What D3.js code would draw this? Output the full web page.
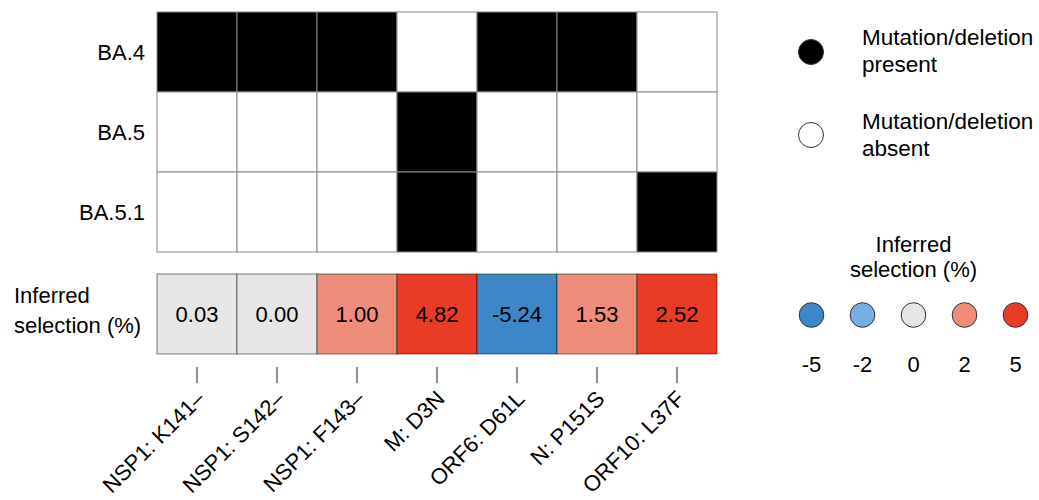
<!DOCTYPE html>
<html>
<head>
<meta charset="utf-8">
<script src="https://cdn.jsdelivr.net/npm/d3@7"></script>
<style>
  body { margin: 0; background: #fff; }
  svg { display: block; font-family: "Liberation Sans", Arial, Helvetica, sans-serif; }
</style>
</head>
<body>
<svg id="chart" width="1039" height="500"></svg>
<script>
// Mutations (columns) and lineages (rows)
const mutations = ["NSP1: K141\u2013", "NSP1: S142\u2013", "NSP1: F143\u2013", "M: D3N", "ORF6: D61L", "N: P151S", "ORF10: L37F"];
const lineages = ["BA.4", "BA.5", "BA.5.1"];

// Presence (1) / absence (0) of each mutation per lineage
const presentBA4  = [1, 1, 1, 0, 1, 1, 0];
const presentBA5  = [0, 0, 0, 1, 0, 0, 0];
const presentBA51 = [0, 0, 0, 1, 0, 0, 1];

// Inferred selection coefficient (%) per mutation
const selection = [0.03, 0.00, 1.00, 4.82, -5.24, 1.53, 2.52];

// Colour legend entries
const legendValues = [-5, -2, 0, 2, 5];
const legendColors = ["#3c87c8", "#74b0e4", "#e6e6e6", "#ef8c7a", "#e83c24"];

const presence = [presentBA4, presentBA5, presentBA51];

const svg = d3.select("#chart");
const fontSize = 22;
const tickFontSize = 22;

const x = d3.scaleBand().domain(mutations).range([157, 717]).padding(0);
const y = d3.scaleBand().domain(lineages).range([12, 252]).padding(0);
const selTop = 274, selH = 80;

// Discrete colour bins for the selection row
const colour = d3.scaleThreshold()
  .domain([-2, -0.5, 0.5, 2])
  .range(legendColors);

// Presence / absence grid
const cells = [];
lineages.forEach((lin, i) => {
  mutations.forEach((m, j) => cells.push({ lin, m, v: presence[i][j] }));
});

svg.append("g").selectAll("rect")
  .data(cells)
  .join("rect")
  .attr("x", d => x(d.m))
  .attr("y", d => y(d.lin))
  .attr("width", x.bandwidth())
  .attr("height", y.bandwidth())
  .attr("fill", d => d.v ? "#000" : "#fff")
  .attr("stroke", "#8a8a8a")
  .attr("stroke-width", 1);

// Row labels
svg.append("g").selectAll("text")
  .data(lineages)
  .join("text")
  .attr("x", 145)
  .attr("y", d => y(d) + y.bandwidth() / 2)
  .attr("dy", "0.35em")
  .attr("text-anchor", "end")
  .attr("font-size", fontSize)
  .attr("fill", "#000")
  .text(d => d);

// Selection row
const selG = svg.append("g");
selG.selectAll("rect")
  .data(selection)
  .join("rect")
  .attr("x", (d, i) => x(mutations[i]))
  .attr("y", selTop)
  .attr("width", x.bandwidth())
  .attr("height", selH)
  .attr("fill", d => colour(d))
  .attr("stroke", "rgba(0,0,0,0.5)")
  .attr("stroke-width", 1);

selG.selectAll("text")
  .data(selection)
  .join("text")
  .attr("x", (d, i) => x(mutations[i]) + x.bandwidth() / 2)
  .attr("y", selTop + selH / 2)
  .attr("dy", "0.35em")
  .attr("text-anchor", "middle")
  .attr("font-size", fontSize)
  .attr("fill", "#000")
  .text(d => d.toFixed(2));

// Selection row label
const selLabel = svg.append("text")
  .attr("font-size", fontSize)
  .attr("fill", "#000");
selLabel.append("tspan").attr("x", 14).attr("y", 303).text("Inferred");
selLabel.append("tspan").attr("x", 14).attr("y", 333).text("selection (%)");

// Bottom axis: ticks with rotated labels
const axis = svg.append("g")
  .attr("transform", "translate(0,367)")
  .call(d3.axisBottom(x).tickSize(16).tickFormat(""));
axis.select(".domain").remove();
axis.selectAll(".tick line").attr("stroke", "#222");

svg.append("g").selectAll("text")
  .data(mutations)
  .join("text")
  .attr("transform", d => `translate(${x(d) + x.bandwidth() / 2 + 9},400) rotate(-45)`)
  .attr("text-anchor", "end")
  .attr("font-size", tickFontSize)
  .attr("fill", "#000")
  .text(d => d);

// Presence legend
const presLegend = [
  { fill: "#000", cy: 52, lines: ["Mutation/deletion", "present"], base: 45 },
  { fill: "#fff", cy: 135, lines: ["Mutation/deletion", "absent"], base: 129 }
];
presLegend.forEach(e => {
  svg.append("circle")
    .attr("cx", 811).attr("cy", e.cy).attr("r", 12.5)
    .attr("fill", e.fill).attr("stroke", "#333").attr("stroke-width", 1);
  const t = svg.append("text").attr("font-size", fontSize + 0.5).attr("fill", "#000");
  e.lines.forEach((l, k) => {
    t.append("tspan").attr("x", 862).attr("y", e.base + k * 27).text(l);
  });
});

// Selection colour legend
const lx = d3.scalePoint().domain(legendValues).range([811.5, 1015.5]);
const legTitle = svg.append("text")
  .attr("text-anchor", "middle")
  .attr("font-size", fontSize)
  .attr("fill", "#000");
legTitle.append("tspan").attr("x", lx(0)).attr("y", 252).text("Inferred");
legTitle.append("tspan").attr("x", lx(0)).attr("y", 277).text("selection (%)");

svg.append("g").selectAll("circle")
  .data(legendValues)
  .join("circle")
  .attr("cx", d => lx(d))
  .attr("cy", 315)
  .attr("r", 12.3)
  .attr("fill", (d, i) => legendColors[i])
  .attr("stroke", "#333")
  .attr("stroke-width", 1);

svg.append("g").selectAll("text")
  .data(legendValues)
  .join("text")
  .attr("x", d => lx(d))
  .attr("y", 372)
  .attr("text-anchor", "middle")
  .attr("font-size", fontSize)
  .attr("fill", "#000")
  .text(d => d);
</script>
</body>
</html>
